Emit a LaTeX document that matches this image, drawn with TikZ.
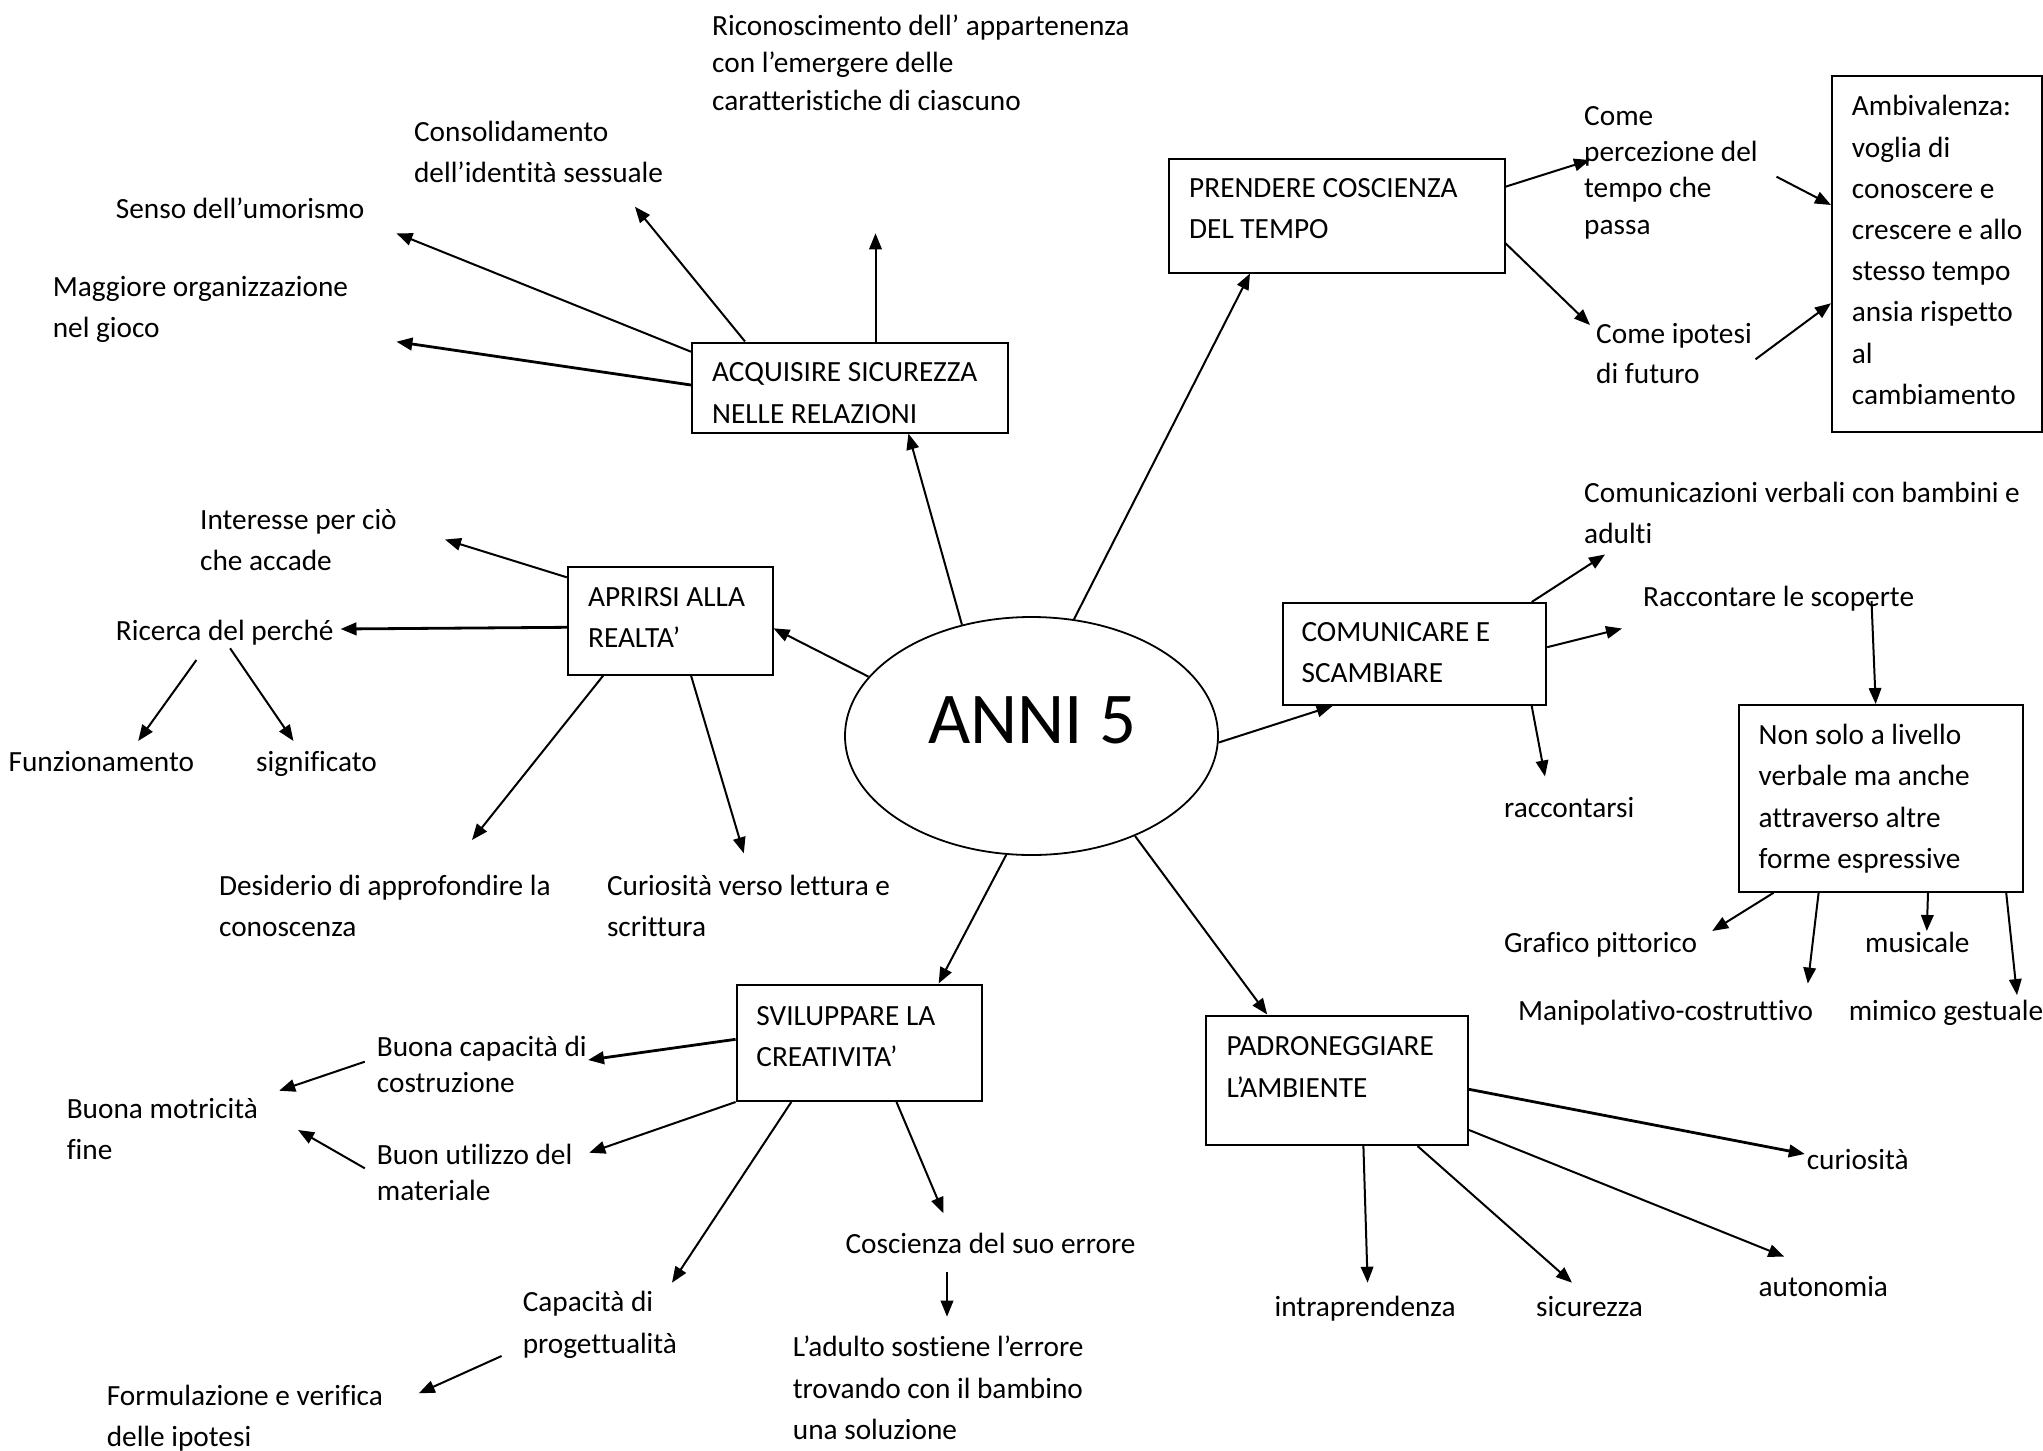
\documentclass[tikz,border=0pt]{standalone}
\usepackage{fontspec}
\setmainfont{Carlito}[Ligatures={TeX,NoCommon}]
\usetikzlibrary{arrows.meta,shapes.geometric}
\newcommand\tx[2]{\fontsize{29.3}{#1}\selectfont\begin{tabular}[t]{@{}l@{}}#2\end{tabular}}
\begin{document}
\begin{tikzpicture}[x=1pt,y=-1pt,
  box/.style={draw, line width=2pt, anchor=north west, inner sep=0pt},
  lbl/.style={anchor=base west, inner sep=0pt, yshift=-2.5pt},
  arr/.style={line width=2pt, -{Triangle[length=16pt,width=12.5pt]}},
  thk/.style={line width=2.8pt}]
\useasboundingbox (0,0) rectangle (2043,1451);

% ---------- central ellipse ----------
\node[draw, ellipse, line width=1.8pt, minimum width=373pt, minimum height=238pt, inner sep=0pt] (ell) at (1031.5,736) {};
\node[anchor=base, inner sep=0pt, font=\fontsize{73}{80}\selectfont] (anni) at (1032.5,743) {ANNI 5};

% ---------- boxes ----------
\node[box, minimum width=316pt, minimum height=90pt] (acq) at (691,341.5) {};
\node[lbl] (acqT) at (712,379.2) {\tx{41.5}{ACQUISIRE SICUREZZA\\NELLE RELAZIONI}};

\node[box, minimum width=336pt, minimum height=114pt] (pre) at (1167.5,157.5) {};
\node[lbl] (preT) at (1189,194.5) {\tx{41.5}{PRENDERE COSCIENZA\\DEL TEMPO}};

\node[box, minimum width=210pt, minimum height=356pt] (amb) at (1831,75) {};
\node[lbl] (ambT) at (1851.7,113.3) {\tx{41.2}{Ambivalenza:\\voglia di\\conoscere e\\crescere e allo\\stesso tempo\\ansia rispetto\\al\\cambiamento}};

\node[box, minimum width=204.7pt, minimum height=107.5pt] (apr) at (566.8,566) {};
\node[lbl] (aprT) at (587.9,604.2) {\tx{40.3}{APRIRSI ALLA\\REALTA’}};

\node[box, minimum width=263.4pt, minimum height=102pt] (com) at (1281.8,602) {};
\node[lbl] (comT) at (1301.4,639) {\tx{41.4}{COMUNICARE E\\SCAMBIARE}};

\node[box, minimum width=283.8pt, minimum height=186.8pt] (non) at (1737.8,704) {};
\node[lbl] (nonT) at (1758.5,741.8) {\tx{41.5}{Non solo a livello\\verbale ma anche\\attraverso altre\\forme espressive}};

\node[box, minimum width=245.4pt, minimum height=116.5pt] (svi) at (735.6,983.5) {};
\node[lbl] (sviT) at (756.2,1022.5) {\tx{41}{SVILUPPARE LA\\CREATIVITA’}};

\node[box, minimum width=261.8pt, minimum height=129.5pt] (pad) at (1205.2,1014.5) {};
\node[lbl] (padT) at (1226.3,1052.5) {\tx{42}{PADRONEGGIARE\\L’AMBIENTE}};

% ---------- free texts ----------
\node[lbl] (ric) at (712,32.5) {\tx{37.5}{Riconoscimento dell’ appartenenza\\con l’emergere delle\\caratteristiche di ciascuno}};
\node[lbl] (cons) at (413.9,139) {\tx{41}{Consolidamento\\dell’identità sessuale}};
\node[lbl] (senso) at (115.7,215.5) {\tx{41}{Senso dell’umorismo}};
\node[lbl] (magg) at (52.6,294) {\tx{41}{Maggiore organizzazione\\nel gioco}};
\node[lbl] (come1) at (1584,123) {\tx{36.2}{Come\\percezione del\\tempo che\\passa}};
\node[lbl] (come2) at (1596,340.8) {\tx{40}{Come ipotesi\\di futuro}};
\node[lbl] (comun) at (1584,500) {\tx{41}{Comunicazioni verbali con bambini e\\adulti}};
\node[lbl] (racc) at (1643,603.7) {\tx{41}{Raccontare le scoperte}};
\node[lbl] (raccs) at (1504,814.6) {\tx{41}{raccontarsi}};
\node[lbl] (graf) at (1504,950) {\tx{41}{Grafico pittorico}};
\node[lbl] (music) at (1864.9,950) {\tx{41}{musicale}};
\node[lbl] (manip) at (1517.9,1017.9) {\tx{41}{Manipolativo-costruttivo}};
\node[lbl] (mimico) at (1848.6,1017.9) {\tx{41}{mimico gestuale}};
\node[lbl] (inter) at (200,527) {\tx{41}{Interesse per ciò\\che accade}};
\node[lbl] (ricerca) at (115.7,637.5) {\tx{41}{Ricerca del perché}};
\node[lbl] (funz) at (8.4,769) {\tx{41}{Funzionamento}};
\node[lbl] (signif) at (256,769) {\tx{41}{significato}};
\node[lbl] (desid) at (218.9,892.5) {\tx{41.7}{Desiderio di approfondire la\\conoscenza}};
\node[lbl] (curios) at (606.8,892.5) {\tx{41.7}{Curiosità verso lettura e\\scrittura}};
\node[lbl] (bcap) at (376.7,1053.5) {\tx{36}{Buona capacità di\\costruzione}};
\node[lbl] (motric) at (66.6,1115.8) {\tx{41}{Buona motricità\\fine}};
\node[lbl] (util) at (376.7,1161.5) {\tx{36}{Buon utilizzo del\\materiale}};
\node[lbl] (capac) at (522.6,1309) {\tx{41.6}{Capacità di\\progettualità}};
\node[lbl] (formul) at (106.6,1402.5) {\tx{41.5}{Formulazione e verifica\\delle ipotesi}};
\node[lbl] (cosc) at (845.3,1250.8) {\tx{41}{Coscienza del suo errore}};
\node[lbl] (adulto) at (792.7,1354.2) {\tx{41.3}{L’adulto sostiene l’errore\\trovando con il bambino\\una soluzione}};
\node[lbl] (curio) at (1806.6,1166.8) {\tx{41}{curiosità}};
\node[lbl] (auton) at (1758.4,1294.2) {\tx{41}{autonomia}};
\node[lbl] (intrap) at (1274.4,1313.5) {\tx{41}{intraprendenza}};
\node[lbl] (sicur) at (1536,1313.5) {\tx{41}{sicurezza}};

% ---------- connector ends near texts ----------
\coordinate (senso-in) at (396.4,233.3);
\coordinate (magg-in) at (396.4,341.7);
\coordinate (cons-in) at (634.9,206.7);
\coordinate (ric-in) at (875.5,233.3);
\coordinate (come1-in) at (1590,160);
\coordinate (come2-in) at (1590,325);
\coordinate (come1-out) at (1776.5,176.7);
\coordinate (come2-out) at (1755.5,359.3);
\coordinate (inter-in) at (445,539.5);
\coordinate (ricerca-in) at (340.5,629);
\coordinate (ricerca-out1) at (196.4,660);
\coordinate (ricerca-out2) at (230.1,648.3);
\coordinate (funz-in) at (138.2,741);
\coordinate (signif-in) at (293.5,741);
\coordinate (desid-in) at (472,840);
\coordinate (curios-in) at (743.8,853.3);
\coordinate (comun-in) at (1605,554.5);
\coordinate (racc-in) at (1622,628.5);
\coordinate (raccs-in) at (1545,776.5);
\coordinate (racc-out) at (1871.5,601);
\coordinate (graf-in) at (1712.2,931);
\coordinate (manip-in) at (1807.8,983.6);
\coordinate (music-in) at (1926.8,931);
\coordinate (mimico-in) at (2017,995.1);
\coordinate (bcap-in) at (588,1060);
\coordinate (util-in) at (589.3,1152.7);
\coordinate (capac-in) at (672,1282.7);
\coordinate (cosc-in) at (943.5,1213.3);
\coordinate (cosc-out) at (947,1271.7);
\coordinate (adulto-in) at (947,1316.7);
\coordinate (bcap-out) at (364.8,1061.7);
\coordinate (motric-in1) at (279.2,1090.7);
\coordinate (util-out) at (364.8,1168.3);
\coordinate (motric-in2) at (298.1,1130);
\coordinate (capac-out) at (501.6,1356);
\coordinate (formul-in) at (418.8,1393.3);
\coordinate (curio-in) at (1804.8,1154);
\coordinate (auton-in) at (1784.3,1256.7);
\coordinate (intrap-in) at (1367.6,1282.7);
\coordinate (sicur-in) at (1572,1282.7);

% ---------- connectors ----------
% from the ellipse
\draw[arr] (ell.122) -- ([xshift=217.4pt]acq.south west);
\draw[arr] (ell.70) -- ([xshift=82.5pt]pre.south west);
\draw[arr] (ell.160) -- ([yshift=-62.3pt]apr.north east);
\draw[arr] (ell.358) -- ([xshift=50.7pt]com.south west);
\draw[arr] (ell.258) -- ([xshift=203pt]svi.north west);
\draw[arr] (ell.316) -- ([xshift=62pt]pad.north west);

% acquisire
\draw[arr] ([yshift=-10.2pt]acq.north west) -- (senso-in);
\draw[arr,thk] ([yshift=-43.5pt]acq.north west) -- (magg-in);
\draw[arr] ([xshift=54pt]acq.north west) -- (cons-in);
\draw[arr] ([xshift=184.5pt]acq.north west) -- (ric-in);

% prendere coscienza
\draw[arr] ([yshift=-29.2pt]pre.north east) -- (come1-in);
\draw[arr] ([yshift=-85.8pt]pre.north east) -- (come2-in);
\draw[arr] (come1-out) -- ([yshift=-130pt]amb.north west);
\draw[arr] (come2-out) -- ([yshift=-228.3pt]amb.north west);

% aprirsi
\draw[arr] ([yshift=-11.3pt]apr.north west) -- (inter-in);
\draw[arr,thk] ([yshift=-61.3pt]apr.north west) -- (ricerca-in);
\draw[arr] (ricerca-out1) -- (funz-in);
\draw[arr] (ricerca-out2) -- (signif-in);
\draw[arr] ([xshift=36.5pt]apr.south west) -- (desid-in);
\draw[arr] ([xshift=124.2pt]apr.south west) -- (curios-in);

% comunicare
\draw[arr] ([xshift=249.9pt]com.north west) -- (comun-in);
\draw[arr] ([yshift=-45.2pt]com.north east) -- (racc-in);
\draw[arr] ([xshift=249.9pt]com.south west) -- (raccs-in);
\draw[arr] (racc-out) -- ([xshift=137.9pt]non.north west);
\draw[arr] ([xshift=35.7pt]non.south west) -- (graf-in);
\draw[arr] ([xshift=80.8pt]non.south west) -- (manip-in);
\draw[arr] ([xshift=190.2pt]non.south west) -- (music-in);
\draw[arr] ([xshift=268.4pt]non.south west) -- (mimico-in);

% sviluppare
\draw[arr,thk] ([yshift=-55.8pt]svi.north west) -- (bcap-in);
\draw[arr] (svi.south west) -- (util-in);
\draw[arr] ([xshift=55.7pt]svi.south west) -- (capac-in);
\draw[arr] ([xshift=160.9pt]svi.south west) -- (cosc-in);
\draw[arr] (cosc-out) -- (adulto-in);
\draw[arr] (bcap-out) -- (motric-in1);
\draw[arr] (util-out) -- (motric-in2);
\draw[arr] (capac-out) -- (formul-in);

% padroneggiare
\draw[arr,thk] ([yshift=-74.8pt]pad.north east) -- (curio-in);
\draw[arr] ([yshift=-115.5pt]pad.north east) -- (auton-in);
\draw[arr] ([xshift=158.2pt]pad.south west) -- (intrap-in);
\draw[arr] ([xshift=212.3pt]pad.south west) -- (sicur-in);
\end{tikzpicture}
\end{document}
